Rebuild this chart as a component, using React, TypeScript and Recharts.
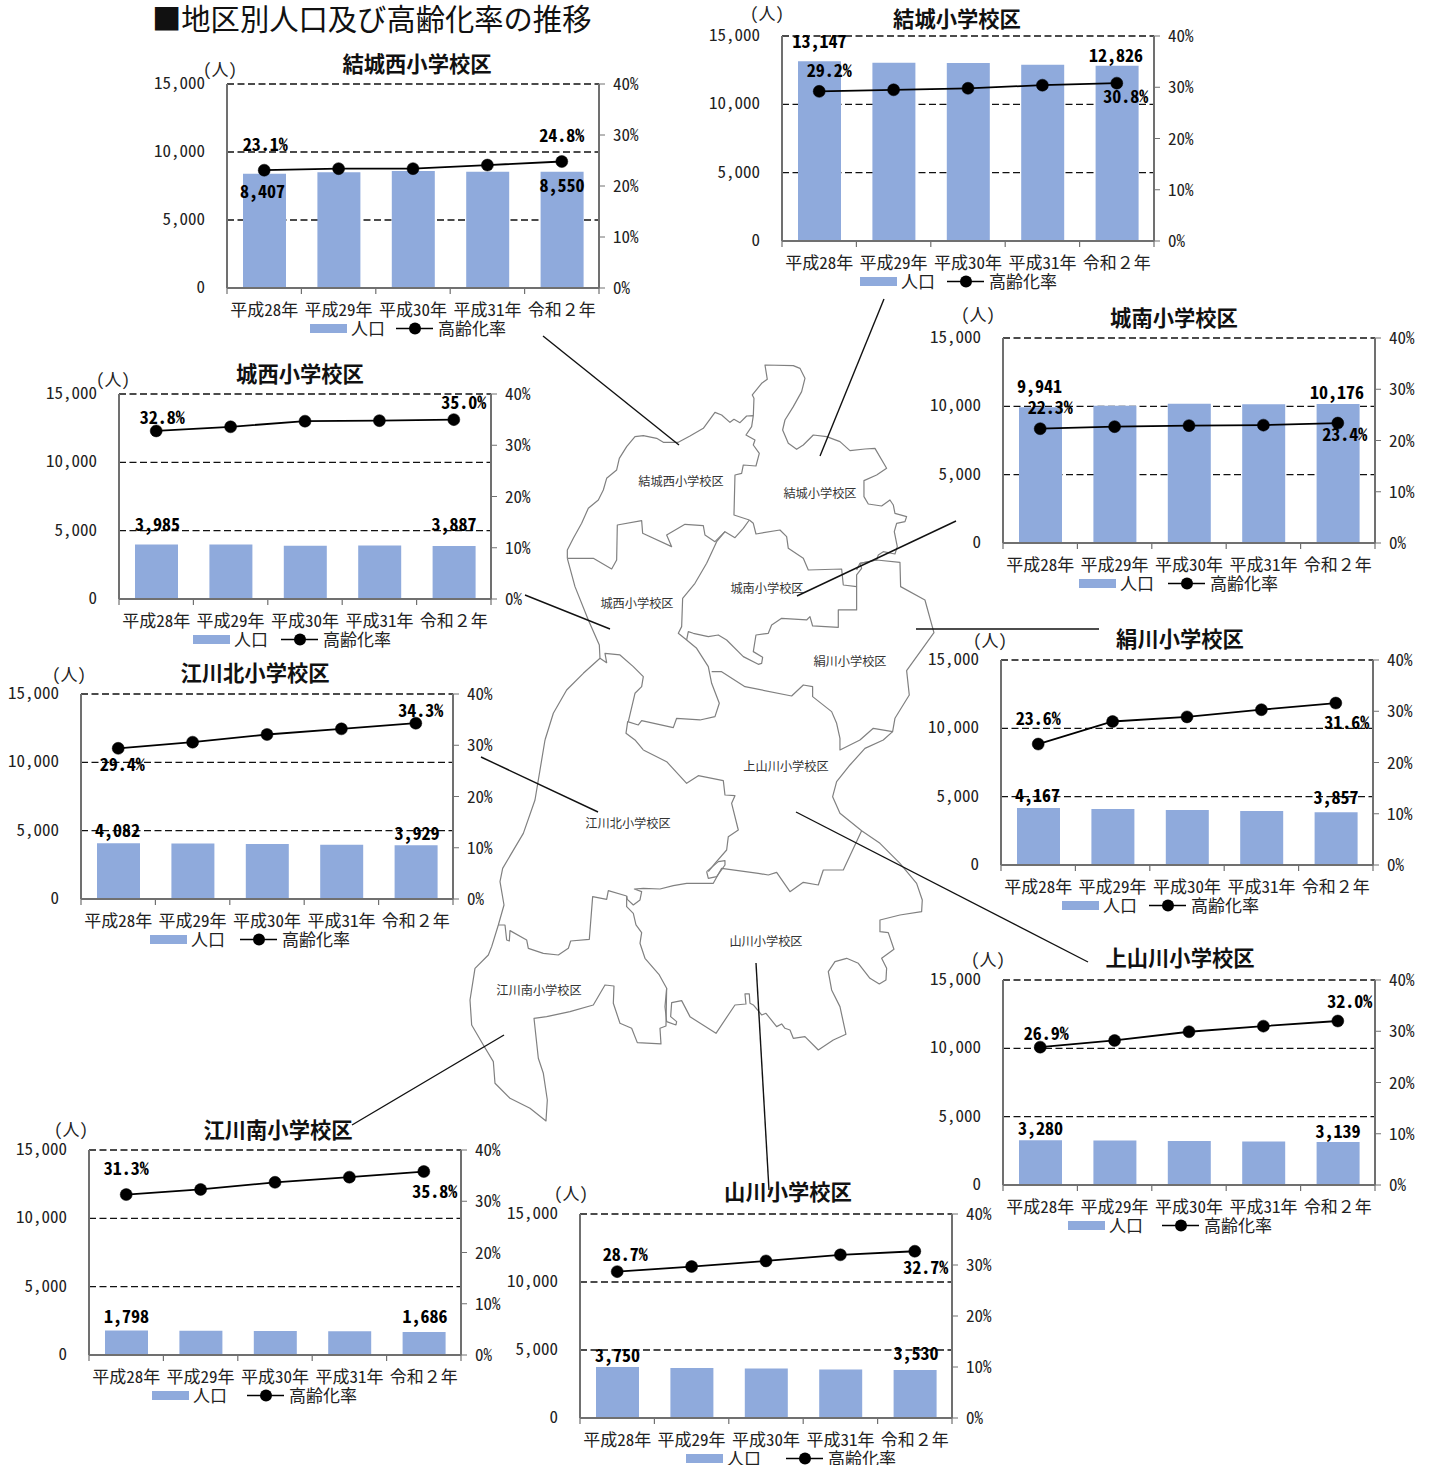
import React from 'react';
import { ComposedChart, Bar, Line, XAxis, YAxis, CartesianGrid, Legend, LabelList } from 'recharts';

// Fiscal years shown on every panel
const years = ['平成28年', '平成29年', '平成30年', '平成31年', '令和２年'];
const populationTicks = [0, 5000, 10000, 15000];
const rateTicks = [0, 10, 20, 30, 40];

// Population by school district
const popYukiNishi = [8407, 8520, 8600, 8540, 8550];
const popYuki = [13147, 13050, 13020, 12900, 12826];
const popJonan = [9941, 10050, 10180, 10150, 10176];
const popJosai = [3985, 3980, 3900, 3920, 3887];
const popKinugawa = [4167, 4100, 4020, 3950, 3857];
const popEgawaKita = [4082, 4060, 4020, 3970, 3929];
const popKamiyamakawa = [3280, 3260, 3220, 3180, 3139];
const popEgawaMinami = [1798, 1780, 1760, 1730, 1686];
const popYamakawa = [3750, 3680, 3640, 3570, 3530];

// Ageing rate (%) by school district
const rateYukiNishi = [23.1, 23.4, 23.4, 24.1, 24.8];
const rateYuki = [29.2, 29.5, 29.8, 30.4, 30.8];
const rateJonan = [22.3, 22.7, 22.9, 23.0, 23.4];
const rateJosai = [32.8, 33.6, 34.7, 34.8, 35.0];
const rateKinugawa = [23.6, 28.0, 28.9, 30.3, 31.6];
const rateEgawaKita = [29.4, 30.6, 32.1, 33.2, 34.3];
const rateKamiyamakawa = [26.9, 28.2, 29.9, 31.0, 32.0];
const rateEgawaMinami = [31.3, 32.3, 33.7, 34.7, 35.8];
const rateYamakawa = [28.7, 29.7, 30.8, 32.0, 32.7];

type Offset = [number, number];
type Panel = {
  title: string;
  pop: number[];
  rate: number[];
  left: number;
  top: number;
  plotH: number;
  titleAt: Offset;
  unitAt: Offset;
  legendX: number;
  legendLineX: number;
  popLabels: [Offset, Offset];
  rateLabels: [Offset, Offset];
};

const panels: Panel[] = [
  { title: '結城西小学校区', pop: popYukiNishi, rate: rateYukiNishi, left: 227, top: 84, plotH: 204, titleAt: [417, 62], unitAt: [220, 68], legendX: 310, legendLineX: 396, popLabels: [[-2, 16], [0, 12]], rateLabels: [[1, -27], [0, -28]] },
  { title: '結城小学校区', pop: popYuki, rate: rateYuki, left: 782, top: 36, plotH: 205, titleAt: [957, 17], unitAt: [767, 12], legendX: 860, legendLineX: 947, popLabels: [[0, -21], [-1, -12]], rateLabels: [[10, -22], [9, 12]] },
  { title: '城南小学校区', pop: popJonan, rate: rateJonan, left: 1003, top: 338, plotH: 205, titleAt: [1174, 316], unitAt: [978, 313], legendX: 1079, legendLineX: 1168, popLabels: [[-1, -22], [-1, -13]], rateLabels: [[10, -23], [7, 10]] },
  { title: '城西小学校区', pop: popJosai, rate: rateJosai, left: 119, top: 394, plotH: 205, titleAt: [300, 372], unitAt: [113, 378], legendX: 193, legendLineX: 281, popLabels: [[1, -22], [0, -23]], rateLabels: [[6, -15], [10, -19]] },
  { title: '絹川小学校区', pop: popKinugawa, rate: rateKinugawa, left: 1001, top: 660, plotH: 205, titleAt: [1180, 637], unitAt: [990, 639], legendX: 1062, legendLineX: 1149, popLabels: [[-1, -14], [0, -16]], rateLabels: [[0, -27], [11, 18]] },
  { title: '江川北小学校区', pop: popEgawaKita, rate: rateEgawaKita, left: 81, top: 694, plotH: 205, titleAt: [255, 671], unitAt: [69, 673], legendX: 150, legendLineX: 240, popLabels: [[-1, -14], [1, -13]], rateLabels: [[4, 15], [5, -14]] },
  { title: '上山川小学校区', pop: popKamiyamakawa, rate: rateKamiyamakawa, left: 1003, top: 980, plotH: 205, titleAt: [1180, 956], unitAt: [988, 958], legendX: 1068, legendLineX: 1162, popLabels: [[0, -13], [0, -12]], rateLabels: [[6, -15], [12, -21]] },
  { title: '江川南小学校区', pop: popEgawaMinami, rate: rateEgawaMinami, left: 89, top: 1150, plotH: 205, titleAt: [278, 1128], unitAt: [71, 1128], legendX: 152, legendLineX: 247, popLabels: [[0, -15], [1, -17]], rateLabels: [[0, -28], [11, 18]] },
  { title: '山川小学校区', pop: popYamakawa, rate: rateYamakawa, left: 580, top: 1214, plotH: 204, titleAt: [788, 1190], unitAt: [571, 1192], legendX: 686, legendLineX: 786, popLabels: [[0, -13], [1, -18]], rateLabels: [[8, -19], [11, 15]] },
];

const PLOT_W = 372;
const BAND = PLOT_W / years.length;
const PAD_LEFT = 80;
const PAD_TOP = 40;
const AXIS_GREY = '#707070';
const BAR_BLUE = '#8faadc';

// District boundaries, traced at 3x and scaled down by the enclosing group
const northBoundaries: number[][][] = [
  [[322,625],[322,600],[340,565],[365,520],[385,475],[415,450],[430,420],[440,385],[470,360],[478,325],[500,290],[525,260],[550,257],[590,265],[610,277],[655,277],[690,258],[730,235],[765,187],[785,195],[810,217],[822,208],[840,218],[860,198],[880,197],[875,230],[858,255],[885,270],[880,285],[898,310],[888,348],[850,345],[845,370],[825,375],[822,495],[868,510]],
  [[880,197],[882,145],[877,135],[905,100],[922,88],[915,45],[1000,47],[1020,55],[1035,85],[1025,125],[1000,170],[975,210],[968,240],[985,280],[1010,298],[1030,285],[1060,255],[1100,260],[1140,275],[1170,302],[1215,297],[1245,295],[1280,355],[1250,375],[1212,392],[1212,440],[1225,462],[1265,468],[1290,450],[1300,465],[1305,490],[1340,500],[1335,515],[1310,520],[1303,545],[1312,590],[1305,612],[1270,605],[1255,615],[1250,630],[1200,640],[1190,660]],
  [[868,510],[880,520],[888,552],[960,540],[980,560],[985,595],[1030,625],[1045,660],[1145,657],[1150,705],[1190,710],[1190,675],[1205,655],[1200,640]],
  [[322,625],[400,625],[455,657],[470,630],[472,525],[545,512],[548,550],[635,590],[620,555],[675,523],[730,527],[735,555],[765,575],[795,545],[825,563],[850,535],[868,510]],
  [[795,545],[770,575],[740,640],[705,700],[668,745],[665,830],[655,850],[680,870],[710,895],[745,950],[755,1000],[778,1060],[765,1100],[720,1110],[650,1105],[640,1133],[545,1112],[535,1125],[503,1115],[498,1150],[525,1170],[550,1200]],
  [[680,870],[685,845],[700,850],[745,860],[775,855],[800,870],[850,920],[895,943],[905,940],[908,922],[880,905],[888,855],[925,850],[935,825],[965,805],[1040,810],[1050,800],[1058,828],[1135,832],[1135,780],[1190,780],[1190,710]],
  [[1200,640],[1250,630],[1320,637],[1322,710],[1395,750],[1422,848],[1340,962],[1348,1035],[1305,1105],[1298,1145],[1240,1135],[1200,1170]],
  [[755,965],[785,965],[855,1010],[995,1038],[1030,1005],[1058,1010],[1058,1040],[1115,1085],[1130,1120],[1140,1165],[1140,1200],[1200,1170]],
  [[322,625],[345,710],[385,810],[418,885],[420,925],[440,938],[435,910],[480,915],[520,950],[550,980],[545,1010],[525,1030],[505,1115]],
  [[420,925],[370,970],[320,1020],[280,1090],[255,1170]],
];

const southBoundaries: number[][][] = [
  [[1298,-25],[1270,0],[1215,25],[1170,75],[1130,125],[1118,170],[1140,220],[1205,272],[1260,310],[1320,370],[1370,430],[1387,480],[1385,515],[1320,525],[1260,540],[1260,575],[1285,578],[1302,628],[1265,655],[1280,685],[1278,720],[1258,732],[1230,715],[1195,670],[1160,655],[1125,665],[1105,695],[1115,750],[1140,800],[1158,883],[1120,900],[1075,930],[1035,890],[1000,895],[990,870],[975,865],[965,852],[950,860],[918,820],[905,825],[880,795],[870,790],[868,762],[855,762],[858,792],[825,795],[768,880],[690,830],[665,782],[635,788],[632,830],[650,845],[648,855],[620,845],[615,800],[620,745],[598,705],[555,655],[540,610],[545,578],[528,555],[520,520],[500,500],[500,468]],
  [[1205,272],[1150,390],[1090,390],[1075,435],[1030,427],[990,455],[950,397],[925,405],[895,400],[785,385],[760,430],[680,430],[640,437],[600,447],[550,445],[523,447],[545,455],[540,480],[520,495],[502,478],[500,468]],
  [[740,395],[775,365],[795,362],[795,375],[770,410],[745,415],[740,395]],
  [[550,30],[620,65],[680,130],[715,107],[790,122],[795,165],[825,167],[815,190],[835,270],[805,290],[800,330],[765,370],[745,395]],
  [[255,0],[225,180],[190,280],[128,385],[120,425],[132,495],[115,555],[95,620],[85,645],[45,685],[30,780],[35,855],[70,915],[100,965],[105,1030],[150,1075],[210,1105],[258,1143],[262,1080],[250,1000],[235,955],[222,835],[260,830],[330,815],[400,795],[435,735],[462,738],[460,790],[480,850],[515,865],[532,908],[603,912],[600,865],[618,858],[620,745]],
  [[115,555],[135,555],[140,600],[148,603],[150,572],[200,600],[205,625],[250,640],[295,645],[325,625],[332,603],[388,598],[398,470],[440,478],[445,452],[500,468]],
];

const districtNames: [string, number, number][] = [
  ['結城西小学校区', 681, 481],
  ['結城小学校区', 820, 493],
  ['城南小学校区', 767, 588],
  ['城西小学校区', 637, 603],
  ['絹川小学校区', 850, 661],
  ['上山川小学校区', 786, 766],
  ['江川北小学校区', 628, 823],
  ['山川小学校区', 766, 941],
  ['江川南小学校区', 539, 990],
];

// Lines tying each panel to its district on the map
const leaders: number[][] = [
  [543, 336, 679, 445],
  [884, 299, 820, 456],
  [956, 521, 797, 596],
  [525, 595, 610, 629],
  [916, 629, 1099, 629],
  [481, 757, 598, 812],
  [796, 812, 1088, 962],
  [504, 1035, 352, 1125],
  [756, 963, 769, 1190],
];

const toPoints = (pts: number[][]) => pts.map((p) => p.join(',')).join(' ');

function MapLayer() {
  return (
    <svg width={1431} height={1465} style={{ position: 'absolute', left: 0, top: 0 }}>
      <text x={152} y={17} fontSize={29.3} dominantBaseline="central" fill="#111">
        ■地区別人口及び高齢化率の推移
      </text>
      <g transform="translate(460,350) scale(0.3333)" fill="none" stroke="#808080" strokeWidth={3.6} strokeLinejoin="round">
        {northBoundaries.map((pts, i) => <polyline key={i} points={toPoints(pts)} />)}
      </g>
      <g transform="translate(460,740) scale(0.3333)" fill="none" stroke="#808080" strokeWidth={3.6} strokeLinejoin="round">
        {southBoundaries.map((pts, i) => <polyline key={i} points={toPoints(pts)} />)}
      </g>
      {districtNames.map(([name, x, y]) => (
        <text key={name} x={x} y={y} fontSize={12.2} textAnchor="middle" dominantBaseline="central" fill="#333">{name}</text>
      ))}
      {leaders.map(([x1, y1, x2, y2], i) => (
        <line key={i} x1={x1} y1={y1} x2={x2} y2={y2} stroke="#111" strokeWidth={1.4} />
      ))}
      {panels.map((p) => (
        <g key={p.title}>
          <text x={p.titleAt[0]} y={p.titleAt[1]} fontSize={21.3} fontWeight={700} textAnchor="middle" dominantBaseline="central" fill="#111">{p.title}</text>
          <text x={p.unitAt[0]} y={p.unitAt[1]} fontSize={17} textAnchor="middle" dominantBaseline="central" fill="#222">（人）</text>
        </g>
      ))}
    </svg>
  );
}

// Year label plus a tick on the category boundary, as the axis divides bands rather than centres them
function YearTick({ x, y, payload, index }: any) {
  const hasWideDigit = /[０-９]/.test(payload.value);
  return (
    <g>
      <line x1={x - BAND / 2} x2={x - BAND / 2} y1={y} y2={y + 6} stroke={AXIS_GREY} strokeWidth={1.2} />
      {index === years.length - 1 && (
        <line x1={x + BAND / 2} x2={x + BAND / 2} y1={y} y2={y + 6} stroke={AXIS_GREY} strokeWidth={1.2} />
      )}
      <text
        x={x}
        y={y + 20}
        fontSize={17}
        textAnchor="middle"
        dominantBaseline="central"
        fill="#222"
        style={hasWideDigit ? { fontFeatureSettings: 'normal' } : undefined}
      >
        {payload.value}
      </text>
    </g>
  );
}

// Only the first and last values of a series are labelled
function edgeLabel(format: (v: number) => string, offsets: [Offset, Offset]) {
  return (props: any) => {
    const { index, value, viewBox } = props;
    if (index !== 0 && index !== years.length - 1) return null;
    const off = index === 0 ? offsets[0] : offsets[1];
    const x = props.x ?? viewBox?.x ?? 0;
    const y = props.y ?? viewBox?.y ?? 0;
    const width = props.width ?? viewBox?.width ?? 0;
    return (
      <text x={x + width / 2 + off[0]} y={y + off[1]} fontSize={18} fontWeight={700} textAnchor="middle" dominantBaseline="central" fill="#000">
        {format(Number(value))}
      </text>
    );
  };
}

function legendContent(p: Panel) {
  const gap = p.legendLineX - p.legendX;
  return ({ payload }: any) => {
    const [barItem, lineItem] = payload ?? [];
    return (
      <svg width={260} height={24} style={{ display: 'block' }}>
        <rect x={0} y={8} width={37} height={9} fill={barItem?.color ?? BAR_BLUE} />
        <text x={41} y={11} fontSize={17} dominantBaseline="central" fill="#222">{barItem?.value}</text>
        <line x1={gap} x2={gap + 37} y1={12.5} y2={12.5} stroke="#000" strokeWidth={1.6} />
        <circle cx={gap + 19} cy={12.5} r={6} fill="#000" />
        <text x={gap + 42} y={11} fontSize={17} dominantBaseline="central" fill="#222">{lineItem?.value}</text>
      </svg>
    );
  };
}

function DistrictChart({ p }: { p: Panel }) {
  const rows = years.map((year, i) => ({ year, pop: p.pop[i], rate: p.rate[i] }));
  const plotBottom = PAD_TOP + p.plotH;
  return (
    <div style={{ position: 'absolute', left: p.left - PAD_LEFT, top: p.top - PAD_TOP }}>
      <ComposedChart
        width={PLOT_W + 2 * PAD_LEFT}
        height={p.plotH + 100}
        data={rows}
        margin={{ top: PAD_TOP, left: 20, right: 20, bottom: 30 }}
      >
        <CartesianGrid yAxisId="pop" vertical={false} stroke="#111" strokeWidth={1.3} strokeDasharray="7 3.5" />
        <XAxis dataKey="year" height={30} interval={0} tickLine={false} tickSize={0} tickMargin={0} tick={<YearTick />} axisLine={{ stroke: AXIS_GREY, strokeWidth: 2 }} />
        <YAxis yAxisId="pop" width={60} domain={[0, 15000]} ticks={populationTicks} tickLine={false} tickSize={0} tickMargin={22} tick={{ fontSize: 17, fill: '#222', dy: -1 }} tickFormatter={(v: number) => v.toLocaleString('en-US')} axisLine={{ stroke: AXIS_GREY, strokeWidth: 2 }} />
        <YAxis yAxisId="rate" orientation="right" width={60} domain={[0, 40]} ticks={rateTicks} tickSize={6} tickMargin={8} tickLine={{ stroke: AXIS_GREY }} tick={{ fontSize: 17, fill: '#222', textAnchor: 'start' }} tickFormatter={(v: number) => `${v}%`} axisLine={{ stroke: AXIS_GREY, strokeWidth: 2 }} />
        <Legend
          layout="horizontal"
          verticalAlign="middle"
          content={legendContent(p)}
          wrapperStyle={{ left: p.legendX - (p.left - PAD_LEFT), top: plotBottom + 28, width: 260, height: 24 }}
        />
        <Bar yAxisId="pop" dataKey="pop" name="人口" fill={BAR_BLUE} barSize={43} isAnimationActive={false}>
          <LabelList dataKey="pop" content={edgeLabel((v) => v.toLocaleString('en-US'), p.popLabels)} />
        </Bar>
        <Line yAxisId="rate" dataKey="rate" name="高齢化率" stroke="#000" strokeWidth={1.8} dot={{ r: 6, fill: '#000', stroke: '#000', strokeWidth: 0.5 }} isAnimationActive={false}>
          <LabelList dataKey="rate" content={edgeLabel((v) => `${v.toFixed(1)}%`, p.rateLabels)} />
        </Line>
      </ComposedChart>
    </div>
  );
}

export default function App() {
  return (
    <div
      style={{
        position: 'absolute',
        left: 0,
        top: 0,
        width: 1431,
        height: 1465,
        overflow: 'hidden',
        background: '#fff',
        fontFamily: '"Noto Sans CJK JP", sans-serif',
        fontFeatureSettings: '"hwid"',
      }}
    >
      <MapLayer />
      {panels.map((p) => <DistrictChart key={p.title} p={p} />)}
    </div>
  );
}
